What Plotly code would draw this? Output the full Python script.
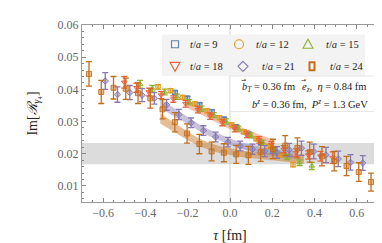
import plotly.graph_objects as go

# ---------------- data ----------------
tau_9 = [-0.26, -0.202, -0.144, -0.086, -0.028, 0.03, 0.088, 0.146, 0.204]
val_9 = [0.0390, 0.0372, 0.0352, 0.0330, 0.0307, 0.0283, 0.0260, 0.0234, 0.0208]
err_9 = [0.0006, 0.0006, 0.0006, 0.0006, 0.0006, 0.0006, 0.0006, 0.0006, 0.0007]

tau_12 = [-0.34, -0.282, -0.224, -0.166, -0.108, -0.05, 0.008, 0.066, 0.124, 0.182, 0.24, 0.298]
val_12 = [0.0408, 0.0396, 0.0375, 0.0355, 0.0333, 0.0312, 0.0290, 0.0268, 0.0246, 0.0222, 0.0196, 0.0166]
err_12 = [0.0007, 0.0006, 0.0006, 0.0006, 0.0006, 0.0006, 0.0006, 0.0006, 0.0006, 0.0006, 0.0006, 0.0007]

tau_15 = [-0.425, -0.367, -0.309, -0.251, -0.193, -0.135, -0.077, -0.019, 0.039, 0.097, 0.155, 0.213, 0.271, 0.329, 0.387]
val_15 = [0.0416, 0.0402, 0.0392, 0.0377, 0.0360, 0.0340, 0.0320, 0.0300, 0.0278, 0.0257, 0.0234, 0.0212, 0.0190, 0.0172, 0.0162]
err_15 = [0.0012, 0.0010, 0.0009, 0.0008, 0.0008, 0.0008, 0.0008, 0.0008, 0.0008, 0.0008, 0.0008, 0.0008, 0.0008, 0.0009, 0.0011]

tau_18 = [-0.5, -0.442, -0.384, -0.326, -0.268, -0.21, -0.152, -0.094, -0.036, 0.022, 0.08, 0.138, 0.196, 0.254, 0.312, 0.37, 0.428, 0.486]
val_18 = [0.0422, 0.0405, 0.0392, 0.0382, 0.0370, 0.0355, 0.0337, 0.0317, 0.0297, 0.0278, 0.0260, 0.0243, 0.0228, 0.0214, 0.0203, 0.0196, 0.0192, 0.0188]
err_18 = [0.0018, 0.0014, 0.0012, 0.0011, 0.0010, 0.0010, 0.0010, 0.0010, 0.0010, 0.0010, 0.0010, 0.0010, 0.0010, 0.0011, 0.0012, 0.0013, 0.0015, 0.0018]

tau_21 = [-0.59, -0.532, -0.474, -0.416, -0.358, -0.3, -0.242, -0.184, -0.126, -0.068, -0.01, 0.048, 0.106, 0.164, 0.222, 0.28, 0.338, 0.396, 0.454, 0.512, 0.57, 0.628]
val_21 = [0.0426, 0.0384, 0.0390, 0.0382, 0.0372, 0.0352, 0.0322, 0.0296, 0.0272, 0.0252, 0.0236, 0.0224, 0.0214, 0.0208, 0.0204, 0.0212, 0.0217, 0.0207, 0.0196, 0.0184, 0.0173, 0.0171]
err_21 = [0.0026, 0.0024, 0.0022, 0.0020, 0.0018, 0.0017, 0.0016, 0.0015, 0.0015, 0.0015, 0.0015, 0.0015, 0.0016, 0.0017, 0.0018, 0.0020, 0.0022, 0.0023, 0.0024, 0.0024, 0.0024, 0.0023]

tau_24 = [-0.667, -0.609, -0.551, -0.493, -0.435, -0.377, -0.319, -0.261, -0.203, -0.145, -0.087, -0.029,
          0.029, 0.087, 0.145, 0.203, 0.261, 0.319, 0.377, 0.435, 0.493, 0.551, 0.609, 0.667]
val_24 = [0.0448, 0.0392, 0.0405, 0.0402, 0.0388, 0.0372, 0.0338, 0.0298, 0.0263, 0.0230, 0.0207, 0.0203,
          0.0198, 0.0195, 0.0205, 0.0215, 0.0225, 0.0218, 0.0205, 0.0192, 0.0177, 0.0162, 0.0143, 0.0112]
err_24 = [0.0038, 0.0036, 0.0035, 0.0033, 0.0032, 0.0030, 0.0030, 0.0030, 0.0030, 0.0030, 0.0029, 0.0028,
          0.0028, 0.0028, 0.0029, 0.0030, 0.0031, 0.0031, 0.0031, 0.0030, 0.0030, 0.0030, 0.0029, 0.0028]

# fit bands (centre, half width)
band_tau_24 = [-0.33, -0.25, -0.2, -0.15, -0.1, -0.05, 0.0, 0.05, 0.1, 0.15, 0.2, 0.25, 0.3, 0.35]
band_mid_24 = [0.0310, 0.0275, 0.0255, 0.0237, 0.0223, 0.0213, 0.0206, 0.0200, 0.0196, 0.0193, 0.0190, 0.0188, 0.0186, 0.0184]
band_hw_24 = [0.0016, 0.0014, 0.0013, 0.0012, 0.0011, 0.0011, 0.0010, 0.0010, 0.0010, 0.0011, 0.0011, 0.0012, 0.0013, 0.0014]

band_tau_21 = [-0.33, -0.25, -0.2, -0.15, -0.1, -0.05, 0.0, 0.05, 0.1, 0.15, 0.2, 0.25, 0.3]
band_mid_21 = [0.0355, 0.0323, 0.0303, 0.0283, 0.0265, 0.0250, 0.0237, 0.0226, 0.0217, 0.0210, 0.0204, 0.0200, 0.0197]
band_hw_21 = [0.0014, 0.0012, 0.0011, 0.0010, 0.0010, 0.0010, 0.0010, 0.0010, 0.0010, 0.0010, 0.0011, 0.0012, 0.0013]

band_tau_18 = [-0.2, -0.15, -0.1, -0.05, 0.0, 0.05, 0.1, 0.15, 0.2]
band_mid_18 = [0.0355, 0.0338, 0.0320, 0.0303, 0.0287, 0.0272, 0.0258, 0.0245, 0.0233]
band_hw_18 = [0.0013, 0.0012, 0.0011, 0.0011, 0.0011, 0.0011, 0.0011, 0.0012, 0.0013]

grey_band = [0.0167, 0.0233]

labels = ["t/a = 9", "t/a = 12", "t/a = 15", "t/a = 18", "t/a = 21", "t/a = 24"]
colors = ["#5E81B5", "#E19C24", "#8FB032", "#EB6235", "#8778B3", "#C56E1A"]
symbols = ["square", "circle", "triangle-up", "triangle-down", "diamond", "square"]

series = [(tau_9, val_9, err_9), (tau_12, val_12, err_12), (tau_15, val_15, err_15),
          (tau_18, val_18, err_18), (tau_21, val_21, err_21), (tau_24, val_24, err_24)]


def rgba(hexc, a):
    h = hexc.lstrip("#")
    return "rgba(%d,%d,%d,%g)" % (int(h[0:2], 16), int(h[2:4], 16), int(h[4:6], 16), a)


fig = go.Figure()

# bands
for bt, bm, bh, col, alpha in [(band_tau_24, band_mid_24, band_hw_24, colors[5], 0.45),
                               (band_tau_21, band_mid_21, band_hw_21, colors[4], 0.45),
                               (band_tau_18, band_mid_18, band_hw_18, colors[3], 0.4)]:
    up = [m + h for m, h in zip(bm, bh)]
    lo = [m - h for m, h in zip(bm, bh)]
    fig.add_trace(go.Scatter(x=bt + bt[::-1], y=up + lo[::-1], fill="toself",
                             fillcolor=rgba(col, alpha), line=dict(width=0),
                             mode="lines", hoverinfo="skip", showlegend=False))

# data points
for (tx, vy, ey), col, sym, lab in zip(series, colors, symbols, labels):
    fig.add_trace(go.Scatter(
        x=tx, y=vy, mode="markers", name=lab, showlegend=False,
        error_y=dict(type="data", array=ey, color=col, thickness=1.3, width=3),
        marker=dict(symbol=sym, size=5, color=rgba(col, 0.45),
                    line=dict(color=rgba(col, 0.9), width=1))))

# ---------------- layout geometry ----------------
W, H = 382, 243
ml, mr, mt, mb = 74, 12, 10, 49
pw, ph = W - ml - mr, H - mt - mb


def px(x):
    return (x - ml) / pw


def py(y):
    return (H - mb - y) / ph


shapes = []
# grey band and zero line
shapes.append(dict(type="rect", xref="paper", yref="y", x0=0, x1=1, y0=grey_band[0], y1=grey_band[1],
                   fillcolor="#dcdcdc", line=dict(width=0), layer="below"))
shapes.append(dict(type="line", xref="x", yref="paper", x0=0, x1=0, y0=0, y1=1,
                   line=dict(color="#d0d0d0", width=1), layer="below"))
# legend box
shapes.append(dict(type="rect", xref="paper", yref="paper", x0=px(154), x1=px(357), y0=py(63), y1=py(20),
                   fillcolor="#f3f3f3", line=dict(width=0), layer="above"))
# annotation box
shapes.append(dict(type="rect", xref="paper", yref="paper", x0=px(222), x1=px(369.5), y0=py(100), y1=py(63),
                   fillcolor="white", line=dict(color="#e6e6e6", width=1), layer="above"))

# legend markers (pixel-sized shapes)
leg_pos = [(167, 30), (231, 30), (300, 30), (167, 53), (235, 53), (304, 53)]
for (cx, cy), col, sym in zip(leg_pos, colors, symbols):
    ax, ay = px(cx), py(cy)
    common = dict(xref="paper", yref="paper", xsizemode="pixel", ysizemode="pixel",
                  xanchor=ax, yanchor=ay, line=dict(color=col, width=1.1),
                  fillcolor="rgba(0,0,0,0)", layer="above")
    if sym == "circle":
        shapes.append(dict(type="circle", x0=-4.5, x1=4.5, y0=-4.5, y1=4.5, **common))
    elif sym == "triangle-up":
        shapes.append(dict(type="path", path="M -5 -4 L 5 -4 L 0 5 Z", **common))
    elif sym == "triangle-down":
        shapes.append(dict(type="path", path="M -5 4 L 5 4 L 0 -5 Z", **common))
    elif sym == "diamond":
        shapes.append(dict(type="path", path="M 0 5 L 5 0 L 0 -5 L -5 0 Z", **common))
    elif col == colors[5]:
        c2 = dict(common)
        c2["line"] = dict(color=col, width=2)
        shapes.append(dict(type="rect", x0=-2.5, x1=2.5, y0=-4, y1=4, **c2))
    else:
        shapes.append(dict(type="rect", x0=-3.5, x1=3.5, y0=-3.5, y1=3.5, **common))

serif = "Liberation Serif"
txtfont = dict(family=serif, size=10.5, color="#222")
annotations = []
leg_text_x = [180, 246, 316, 180, 252, 320]
for (cx, cy), tx, lab in zip(leg_pos, leg_text_x, labels):
    num = lab.split("= ")[1]
    annotations.append(dict(xref="paper", yref="paper", x=px(tx), y=py(cy), xanchor="left", yanchor="middle",
                            text="<i>t</i>/<i>a</i> = " + num, showarrow=False, font=txtfont))

# parameter text (vector arrows drawn as small separate glyphs)
annotations.append(dict(xref="paper", yref="paper", x=px(232), y=py(74.5), xanchor="left", yanchor="middle",
                        text="<i>b</i><sub><i>T</i></sub> = 0.36 fm", showarrow=False, font=txtfont))
annotations.append(dict(xref="paper", yref="paper", x=px(292), y=py(74.5), xanchor="left", yanchor="middle",
                        text="<i>e</i><sub><i>z</i></sub>,  <i>η</i> = 0.84 fm", showarrow=False, font=txtfont))
for ax_ in (235.5, 295.5):
    annotations.append(dict(xref="paper", yref="paper", x=px(ax_), y=py(66.5), xanchor="center", yanchor="middle",
                            text="→", showarrow=False, font=dict(family="DejaVu Sans", size=6, color="#222")))
annotations.append(dict(xref="paper", yref="paper", x=px(362), y=py(92), xanchor="right", yanchor="middle",
                        text="<i>b</i><sup><i>z</i></sup> = 0.36 fm,  <i>P</i><sup><i>z</i></sup> = 1.3 GeV",
                        showarrow=False, font=txtfont))

fig.update_layout(
    width=W, height=H, margin=dict(l=ml, r=mr, t=mt, b=mb),
    plot_bgcolor="white", paper_bgcolor="white",
    shapes=shapes, annotations=annotations, showlegend=False,
    xaxis=dict(range=[-0.7, 0.7], tickmode="linear", tick0=0, dtick=0.2, tickformat=".1f",
               ticks="inside", ticklen=4, tickcolor="#888", showgrid=False, zeroline=False,
               showline=True, linecolor="#999", linewidth=1, mirror="ticks",
               minor=dict(ticks="inside", ticklen=2, dtick=0.05, tick0=0, tickcolor="#888", showgrid=False),
               tickfont=dict(family=serif, size=12, color="#666"),
               title=dict(text="<i>τ</i> [fm]", font=dict(family=serif, size=14, color="#222"), standoff=10)),
    yaxis=dict(range=[0.005, 0.06], tickmode="linear", tick0=0, dtick=0.01, tickformat=".2f",
               ticks="inside", ticklen=4, tickcolor="#888", showgrid=False, zeroline=False,
               showline=True, linecolor="#999", linewidth=1, mirror="ticks",
               minor=dict(ticks="inside", ticklen=2, dtick=0.002, tick0=0, tickcolor="#888", showgrid=False),
               tickfont=dict(family=serif, size=12, color="#666"),
               title=dict(text="Im[<i>ℛ</i><sub><i>γ</i>₄</sub>]", font=dict(family=serif, size=14, color="#222"),
                          standoff=16)),
)

fig.write_html("out.html")
